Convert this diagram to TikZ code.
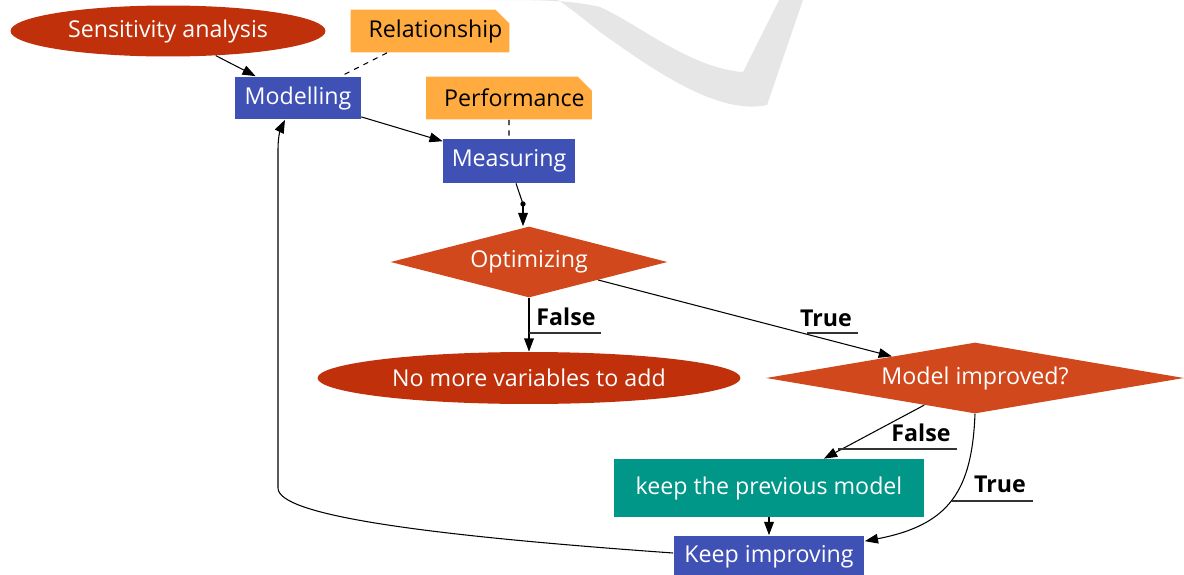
\documentclass[tikz,border=0pt]{standalone}
\usepackage{fontspec}
\setmainfont{Open Sans}
\usetikzlibrary{shapes.geometric,shapes.misc,arrows.meta,calc}
\definecolor{ellred}{HTML}{C0300A}
\definecolor{diared}{HTML}{D1481C}
\definecolor{boxblue}{HTML}{3F51B5}
\definecolor{noteorange}{HTML}{FFAB40}
\definecolor{tealbox}{HTML}{009688}
\definecolor{swoosh}{HTML}{E6E6E6}
\tikzset{
  base/.style={inner sep=0pt, font=\fontsize{13.2}{15}\selectfont},
  ellnode/.style={base, ellipse, fill=ellred, text=white},
  dianode/.style={base, diamond, fill=diared, text=white},
  bluebox/.style={base, rectangle, fill=boxblue, text=white},
  tealnode/.style={base, rectangle, fill=tealbox, text=white},
  notenode/.style={base, chamfered rectangle, chamfered rectangle corners=north east,
    chamfered rectangle xsep=4pt, chamfered rectangle ysep=4pt, fill=noteorange, text=black},
  arr/.style={-{Triangle[length=7.5pt,width=5.5pt]}, line width=0.6pt, black},
  dashline/.style={dashed, line width=0.6pt, black},
  lbl/.style={base, font=\fontsize{13.2}{15}\selectfont\bfseries, text=black},
  uline/.style={line width=0.6pt, black!80},
}
\begin{document}
\begin{tikzpicture}[x=0.02cm, y=-0.02cm]
\useasboundingbox (0,0) rectangle (1184,575);
% background swoosh
\fill[swoosh] (483,0) .. controls (540,0) and (570,0) .. (600,7)
  .. controls (640,25) and (690,68) .. (743,72) -- (779,0) -- (803,0) -- (767,105)
  .. controls (720,115) and (660,75) .. (600,32)
  .. controls (585,20) and (570,8) .. (558,0) -- cycle;
% nodes
\node[ellnode, minimum width=6.30cm, minimum height=1.02cm] (sens) at (168,31) {Sensitivity analysis};
\node[notenode, minimum width=3.18cm, minimum height=0.86cm] (rel) at (430,31) {\hspace*{0.22cm}Relationship};
\node[bluebox, minimum width=2.52cm, minimum height=0.86cm] (mod) at (298,98) {Modelling};
\node[notenode, minimum width=3.30cm, minimum height=0.86cm] (perf) at (509,98) {\hspace*{0.22cm}Performance};
\node[bluebox, minimum width=2.64cm, minimum height=0.88cm] (meas) at (509,161) {Measuring};
\node[dianode, aspect=3.9, minimum width=5.54cm, minimum height=1.42cm] (opt) at (529,262) {Optimizing};
\node[ellnode, minimum width=8.46cm, minimum height=1.04cm] (nm) at (529,378) {No more variables to add};
\node[dianode, aspect=5.9, minimum width=8.36cm, minimum height=1.42cm] (mi) at (975,378) {Model improved?};
\node[tealnode, minimum width=6.22cm, minimum height=1.16cm] (kp) at (769,488) {keep the previous model};
\node[bluebox, minimum width=3.82cm, minimum height=0.86cm] (ki) at (769,557) {Keep improving};
% connectors
\draw[arr] (sens) -- (mod);
\draw[dashline] (rel) -- (mod);
\draw[arr] (mod) -- (meas);
\draw[dashline] (perf) -- (meas);
\coordinate (dt) at (523,204);
\draw[line width=0.6pt] ($(meas.south)+(7,0)$) -- (dt);
\fill (dt) circle (1.5pt);
\draw[arr] (dt) -- (dt |- opt.north);
\draw[arr] (opt) -- (nm);
\draw[arr] (opt) -- (mi);
\draw[arr] (mi) -- (kp);
\draw[arr] (mi.south) .. controls (972,490) and (950,525) .. ($(ki.north east)+(0,6)$);
\draw[arr] (kp) -- (ki);
\draw[arr] ($(ki.west)+(0,-4)$) .. controls (420,535) and (278,515) .. (278,488)
  -- (278,150) .. controls (278,132) and (282,126) .. ($(mod.south)+(-13,0)$);
% labels
\node[lbl] (lf1) at (566,317) {False};
\draw[uline] (529,333) -- (601,333);
\node[lbl] (lt1) at (826,318) {True};
\draw[uline] (807,333) -- (858,333);
\node[lbl] (lf2) at (921,433) {False};
\draw[uline] (838,449) -- (957,449);
\node[lbl] (lt2) at (1000,484) {True};
\draw[uline] (952,501) -- (1033,501);
\end{tikzpicture}
\end{document}
